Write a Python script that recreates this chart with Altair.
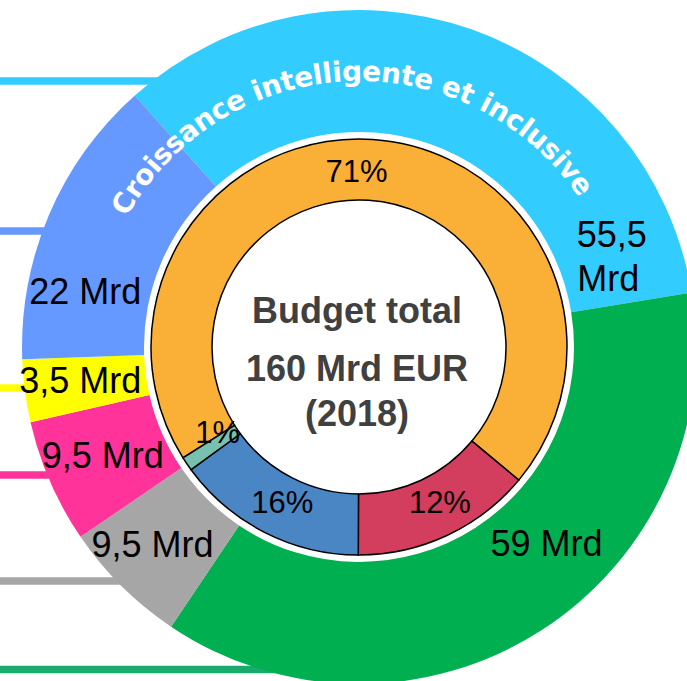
import math
import altair as alt
import pandas as pd

# ---------------- data ----------------
outer_labels = ["55,5 Mrd", "59 Mrd", "9,5 Mrd", "9,5 Mrd", "3,5 Mrd", "22 Mrd"]
outer_values = [54.4, 59.2, 9.7, 9.5, 4.8, 22.4]          # drawn share of the 160 Mrd
outer_colors = ["#33CCFF", "#00B050", "#A6A6A6", "#FF3399", "#FFFF00", "#6699FF"]

inner_labels = ["71%", "12%", "16%", "1%"]
inner_values = [70.0, 14.0, 14.9, 1.1]
inner_colors = ["#FAB037", "#D33D5E", "#4A86C4", "#76C2AF"]

center_lines = ["Budget total", "160 Mrd EUR", "(2018)"]
ring_title = "Croissance intelligente et inclusive"

leader_colors = ["#33CCFF", "#6699FF", "#FFFF00", "#FF3399", "#A6A6A6", "#19AA6E"]

# ---------------- layout / style ----------------
W, H = 687, 681
CX, CY = 359, 347
R_OUT, R_OUT_IN = 337, 215
R_IN, R_IN_IN = 208, 147
OUTER_START = 318.3   # degrees, clockwise from 12 o'clock
INNER_START = 237.8
TWO_PI = 2 * math.pi

# label placement (angle deg, radius px) for each outer label line
outer_label_place = [
    [("55,5", 66.3, 276), ("Mrd", 75.0, 258)],
    [("59 Mrd", 136.6, 273)],
    [("9,5 Mrd", 226.0, 287)],
    [("9,5 Mrd", 246.7, 279)],
    [("3,5 Mrd", 262.8, 281)],
    [("22 Mrd", 281.1, 279)],
]
inner_label_place = [(359.2, 174.5), (152.8, 177), (206.0, 175), (238.4, 166)]
leader_y = [81, 231, 388, 475, 581, 669.5]
center_y = [312, 370, 415]

# ---------------- tables ----------------
outer_df = pd.DataFrame({"idx": range(len(outer_values)), "v": outer_values,
                         "c": outer_colors, "lab": outer_labels})
inner_df = pd.DataFrame({"idx": range(len(inner_values)), "v": inner_values,
                         "c": inner_colors, "lab": inner_labels})

o0 = math.radians(OUTER_START)
i0 = math.radians(INNER_START)

outer_arcs = alt.Chart(outer_df).mark_arc(
    outerRadius=R_OUT, innerRadius=R_OUT_IN, stroke=None
).encode(
    x=alt.value(CX), y=alt.value(CY),
    theta=alt.Theta("v:Q", stack=True,
                    scale=alt.Scale(domain=[0, sum(outer_values)], range=[o0, o0 + TWO_PI])),
    order=alt.Order("idx:Q"),
    color=alt.Color("c:N", scale=None),
)

inner_arcs = alt.Chart(inner_df).mark_arc(
    outerRadius=R_IN, innerRadius=R_IN_IN, stroke="black", strokeWidth=1.5
).encode(
    x=alt.value(CX), y=alt.value(CY),
    theta=alt.Theta("v:Q", stack=True,
                    scale=alt.Scale(domain=[0, sum(inner_values)], range=[i0, i0 + TWO_PI])),
    order=alt.Order("idx:Q"),
    color=alt.Color("c:N", scale=None),
)

# leader lines running off to the left
lead_rows = []
for y, c in zip(leader_y, leader_colors):
    dy = y - CY
    xe = CX - math.sqrt(max(R_OUT ** 2 - dy ** 2, 0)) + 25
    lead_rows.append({"x1": -5, "x2": xe, "y": y, "c": c})
leaders = alt.Chart(pd.DataFrame(lead_rows)).mark_rule(strokeWidth=7.5).encode(
    x=alt.X("x1:Q", scale=None), x2="x2:Q",
    y=alt.Y("y:Q", scale=None),
    color=alt.Color("c:N", scale=None),
)

# outer value labels
ol_rows = []
for place in outer_label_place:
    for txt, a, r in place:
        ol_rows.append({"t": math.radians(a), "r": r, "txt": txt})
outer_text = alt.Chart(pd.DataFrame(ol_rows)).mark_text(
    font="Liberation Sans", fontSize=36, color="black", align="center", baseline="middle"
).encode(
    x=alt.value(CX), y=alt.value(CY),
    theta=alt.Theta("t:Q", scale=None, stack=False),
    radius=alt.Radius("r:Q", scale=None),
    text="txt:N",
)

il_rows = [{"t": math.radians(a), "r": r, "txt": lab}
           for lab, (a, r) in zip(inner_labels, inner_label_place)]
inner_text = alt.Chart(pd.DataFrame(il_rows)).mark_text(
    font="Liberation Sans", fontSize=31, color="black", align="center", baseline="middle"
).encode(
    x=alt.value(CX), y=alt.value(CY),
    theta=alt.Theta("t:Q", scale=None, stack=False),
    radius=alt.Radius("r:Q", scale=None),
    text="txt:N",
)

center_text = alt.Chart(pd.DataFrame({"txt": center_lines, "y": center_y})).mark_text(
    font="Liberation Sans", fontSize=36, fontWeight="bold", color="#404040",
    align="center", baseline="middle"
).encode(
    x=alt.value(CX - 2),
    y=alt.Y("y:Q", scale=None),
    text="txt:N",
)

# curved title along the cyan band (DejaVu Sans Bold advance widths, em)
GW = {" ": 0.348, "a": 0.675, "c": 0.595, "e": 0.678, "g": 0.716, "i": 0.343,
      "l": 0.343, "n": 0.712, "o": 0.687, "r": 0.493, "s": 0.595, "t": 0.478,
      "u": 0.712, "v": 0.652, "C": 0.734}
cums, acc = [], 0.0
for ch in ring_title:
    w = GW.get(ch, 0.6)
    cums.append(acc + w / 2)
    acc += w
A0, A1 = 301.4, 413.9
c0, c1 = cums[0], cums[-1]
ct_rows = []
for ch, c in zip(ring_title, cums):
    if ch == " ":
        continue
    a = A0 + (c - c0) / (c1 - c0) * (A1 - A0)
    ct_rows.append({"ch": ch, "t": math.radians(a), "rot": a % 360})
curved = alt.Chart(pd.DataFrame(ct_rows)).mark_text(
    font="DejaVu Sans", fontWeight="bold", fontSize=28, color="white",
    align="center", baseline="middle", radius=274
).encode(
    x=alt.value(CX), y=alt.value(CY),
    theta=alt.Theta("t:Q", scale=None, stack=False),
    angle=alt.Angle("rot:Q", scale=None),
    text="ch:N",
)

chart = alt.layer(
    leaders, outer_arcs, inner_arcs, outer_text, inner_text, center_text, curved
).resolve_scale(
    theta="independent"
).properties(
    width=W, height=H, padding=0, autosize=alt.AutoSizeParams(type="none")
).configure_view(stroke=None)

chart.save("out.html", embed_options={"renderer": "svg", "actions": False})
